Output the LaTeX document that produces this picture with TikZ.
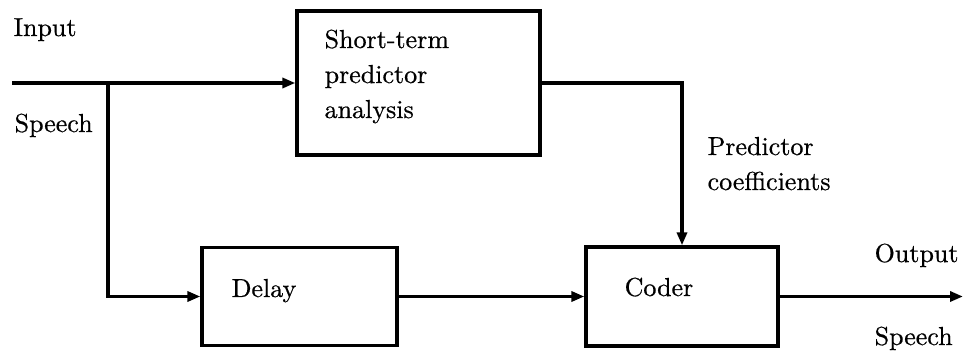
\documentclass[tikz,border=0pt]{standalone}
\usepackage{fontspec}
\setmainfont{lmroman10-regular}[Extension=.otf,FakeBold=0.6]
\usetikzlibrary{arrows.meta}
\begin{document}
\begin{tikzpicture}[x=1pt,y=-1pt,line width=3.3pt,
  blk/.style={draw,line width=3.3pt,inner sep=0pt},
  lbl/.style={anchor=base west,inner sep=0pt,font=\fontsize{26}{35}\selectfont},
  arr/.style={-{Triangle[length=13pt,width=10pt]}}]
\useasboundingbox (0,0) rectangle (964,355);
% blocks
\node[blk,minimum width=243pt,minimum height=144pt] (stp) at (418.5,83) {};
\node[blk,minimum width=195pt,minimum height=98pt] (delay) at (299.5,296.5) {};
\node[blk,minimum width=192pt,minimum height=99pt] (coder) at (682,296.5) {};
% block texts
\node[lbl] (t1) at (323,48) {Short-term};
\node[lbl] (t2) at (323,83) {predictor};
\node[lbl] (t3) at (323,118) {analysis};
\node[lbl] (td) at (230,297) {Delay};
\node[lbl] (tc) at (623,296) {Coder};
% outside labels
\node[lbl] (lin) at (12,36) {Input};
\node[lbl] (lsp) at (13,132) {Speech};
\node[lbl] (lpr) at (706,155) {Predictor};
\node[lbl] (lco) at (706,190) {coefficients};
\node[lbl] (lout) at (873,262) {Output};
\node[lbl] (lsp2) at (873,345) {Speech};
% connectors
\coordinate (in) at (12,83);
\coordinate (br) at (108,83);
\coordinate (out) at (963,296.5);
\draw[arr] (in) -- (stp.west);
\draw[arr] (br) |- (delay.west);
\draw[arr] (delay.east) -- (coder.west);
\draw[arr] (stp.east) -| (coder.north);
\draw[arr] (coder.east) -- (out);
\end{tikzpicture}
\end{document}
